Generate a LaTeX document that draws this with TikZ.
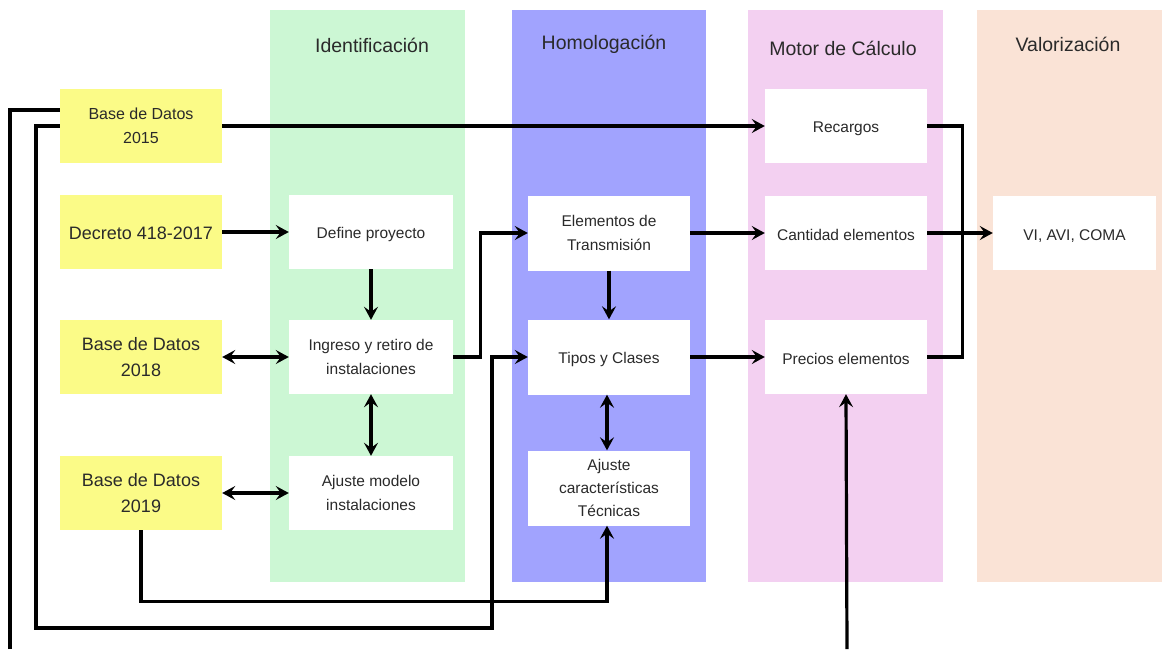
\documentclass[tikz,border=0pt]{standalone}
\usepackage{fontspec}
\setmainfont{Liberation Sans}
\usetikzlibrary{arrows.meta}
\definecolor{cgreen}{HTML}{CCF7D4}
\definecolor{cblue}{HTML}{A1A3FE}
\definecolor{cpink}{HTML}{F3D0F1}
\definecolor{cpeach}{HTML}{FAE3D6}
\definecolor{cyellow}{HTML}{FBFB87}
\definecolor{ctext}{HTML}{2A2A2A}
\begin{document}
\begin{tikzpicture}[x=1pt,y=-1pt,
  coltitle/.style={font=\fontsize{19.5}{22}\selectfont,text=ctext,anchor=center},
  ybox/.style={fill=cyellow,draw=none,minimum width=162pt,minimum height=74pt,align=center,text=ctext,inner sep=0pt,font=\fontsize{18}{26}\selectfont,execute at begin node={\rule{0pt}{16pt}}},
  wbox/.style={fill=white,draw=none,minimum width=164pt,minimum height=74pt,align=center,text=ctext,inner sep=0pt,font=\fontsize{15.5}{23.5}\selectfont,execute at begin node={\rule{0pt}{16pt}}},
  conn/.style={line width=3.2pt,draw=black},
  arr/.style={conn,-{Stealth[length=13pt,width=14pt,inset=5pt]}},
  darr/.style={conn,{Stealth[length=13pt,width=14pt,inset=5pt]}-{Stealth[length=13pt,width=14pt,inset=5pt]}}
]
\useasboundingbox (0,0) rectangle (1162,649);
% column backgrounds
\fill[cgreen] (270,10) rectangle (465,582);
\fill[cblue] (512,10) rectangle (706,582);
\fill[cpink] (748,10) rectangle (943,582);
\fill[cpeach] (977,10) rectangle (1162,582);
\node[coltitle] (tid) at (372,45) {Identificación};
\node[coltitle] (tho) at (604,44) {Homologación};
\node[coltitle] (tmo) at (843,48) {Motor de Cálculo};
\node[coltitle] (tva) at (1068,44) {Valorización};
% yellow boxes
\node[ybox,font=\fontsize{16}{24}\selectfont] (b15) at (141,126) {Base de Datos\\2015};
\node[ybox] (dec) at (141,232) {Decreto 418-2017};
\node[ybox] (b18) at (141,357) {Base de Datos\\2018};
\node[ybox] (b19) at (141,493) {Base de Datos\\2019};
% identificacion
\node[wbox] (def) at (371,232) {Define proyecto};
\node[wbox] (ing) at (371,357) {Ingreso y retiro de\\instalaciones};
\node[wbox] (ajm) at (371,493) {Ajuste modelo\\instalaciones};
% homologacion
\node[wbox,minimum width=162pt,minimum height=75pt] (ele) at (609,233) {Elementos de\\Transmisión};
\node[wbox,minimum width=162pt,minimum height=75pt] (tip) at (609,357) {Tipos y Clases};
\node[wbox,minimum width=162pt,minimum height=75pt,font=\fontsize{15.5}{23}\selectfont] (ajc) at (609,488) {Ajuste\\características\\Técnicas};
% motor
\node[wbox,minimum width=162pt] (rec) at (846,126) {Recargos};
\node[wbox,minimum width=162pt] (can) at (846,233) {Cantidad elementos};
\node[wbox,minimum width=162pt] (pre) at (846,357) {Precios elementos};
% valorizacion
\node[wbox,minimum width=163pt] (val) at (1074.5,233) {VI, AVI, COMA};
% free ends
\coordinate (e1) at (10,649);
\coordinate (e2) at (847,649);
% connectors
\draw[conn] (e1) |- ([yshift=16pt]b15.west);
\draw[arr] (b15.west) -- (36,126) -- (36,628) -- (492,628) |- (tip.west);
\draw[arr] (b15.east) -- (rec.west);
\draw[arr] (dec.east) -- (def.west);
\draw[arr] (def.south) -- (ing.north);
\draw[darr] (b18.east) -- (ing.west);
\draw[darr] (ing.south) -- (ajm.north);
\draw[darr] (b19.east) -- (ajm.west);
\draw[arr] (b19.south) -- ++(0,71) -| ([xshift=-2pt]ajc.south);
\draw[arr] (ing.east) -- ++(27,0) |- (ele.west);
\draw[arr] (ele.south) -- (tip.north);
\draw[darr] ([xshift=-2pt]tip.south) -- ([xshift=-2pt]ajc.north);
\draw[arr] (ele.east) -- (can.west);
\draw[arr] (tip.east) -- (pre.west);
\draw[conn] (rec.east) -- ++(35,0) |- (pre.east);
\draw[arr] (can.east) -- (val.west);
\draw[arr] (e2) -- (pre.south);
\end{tikzpicture}
\end{document}
